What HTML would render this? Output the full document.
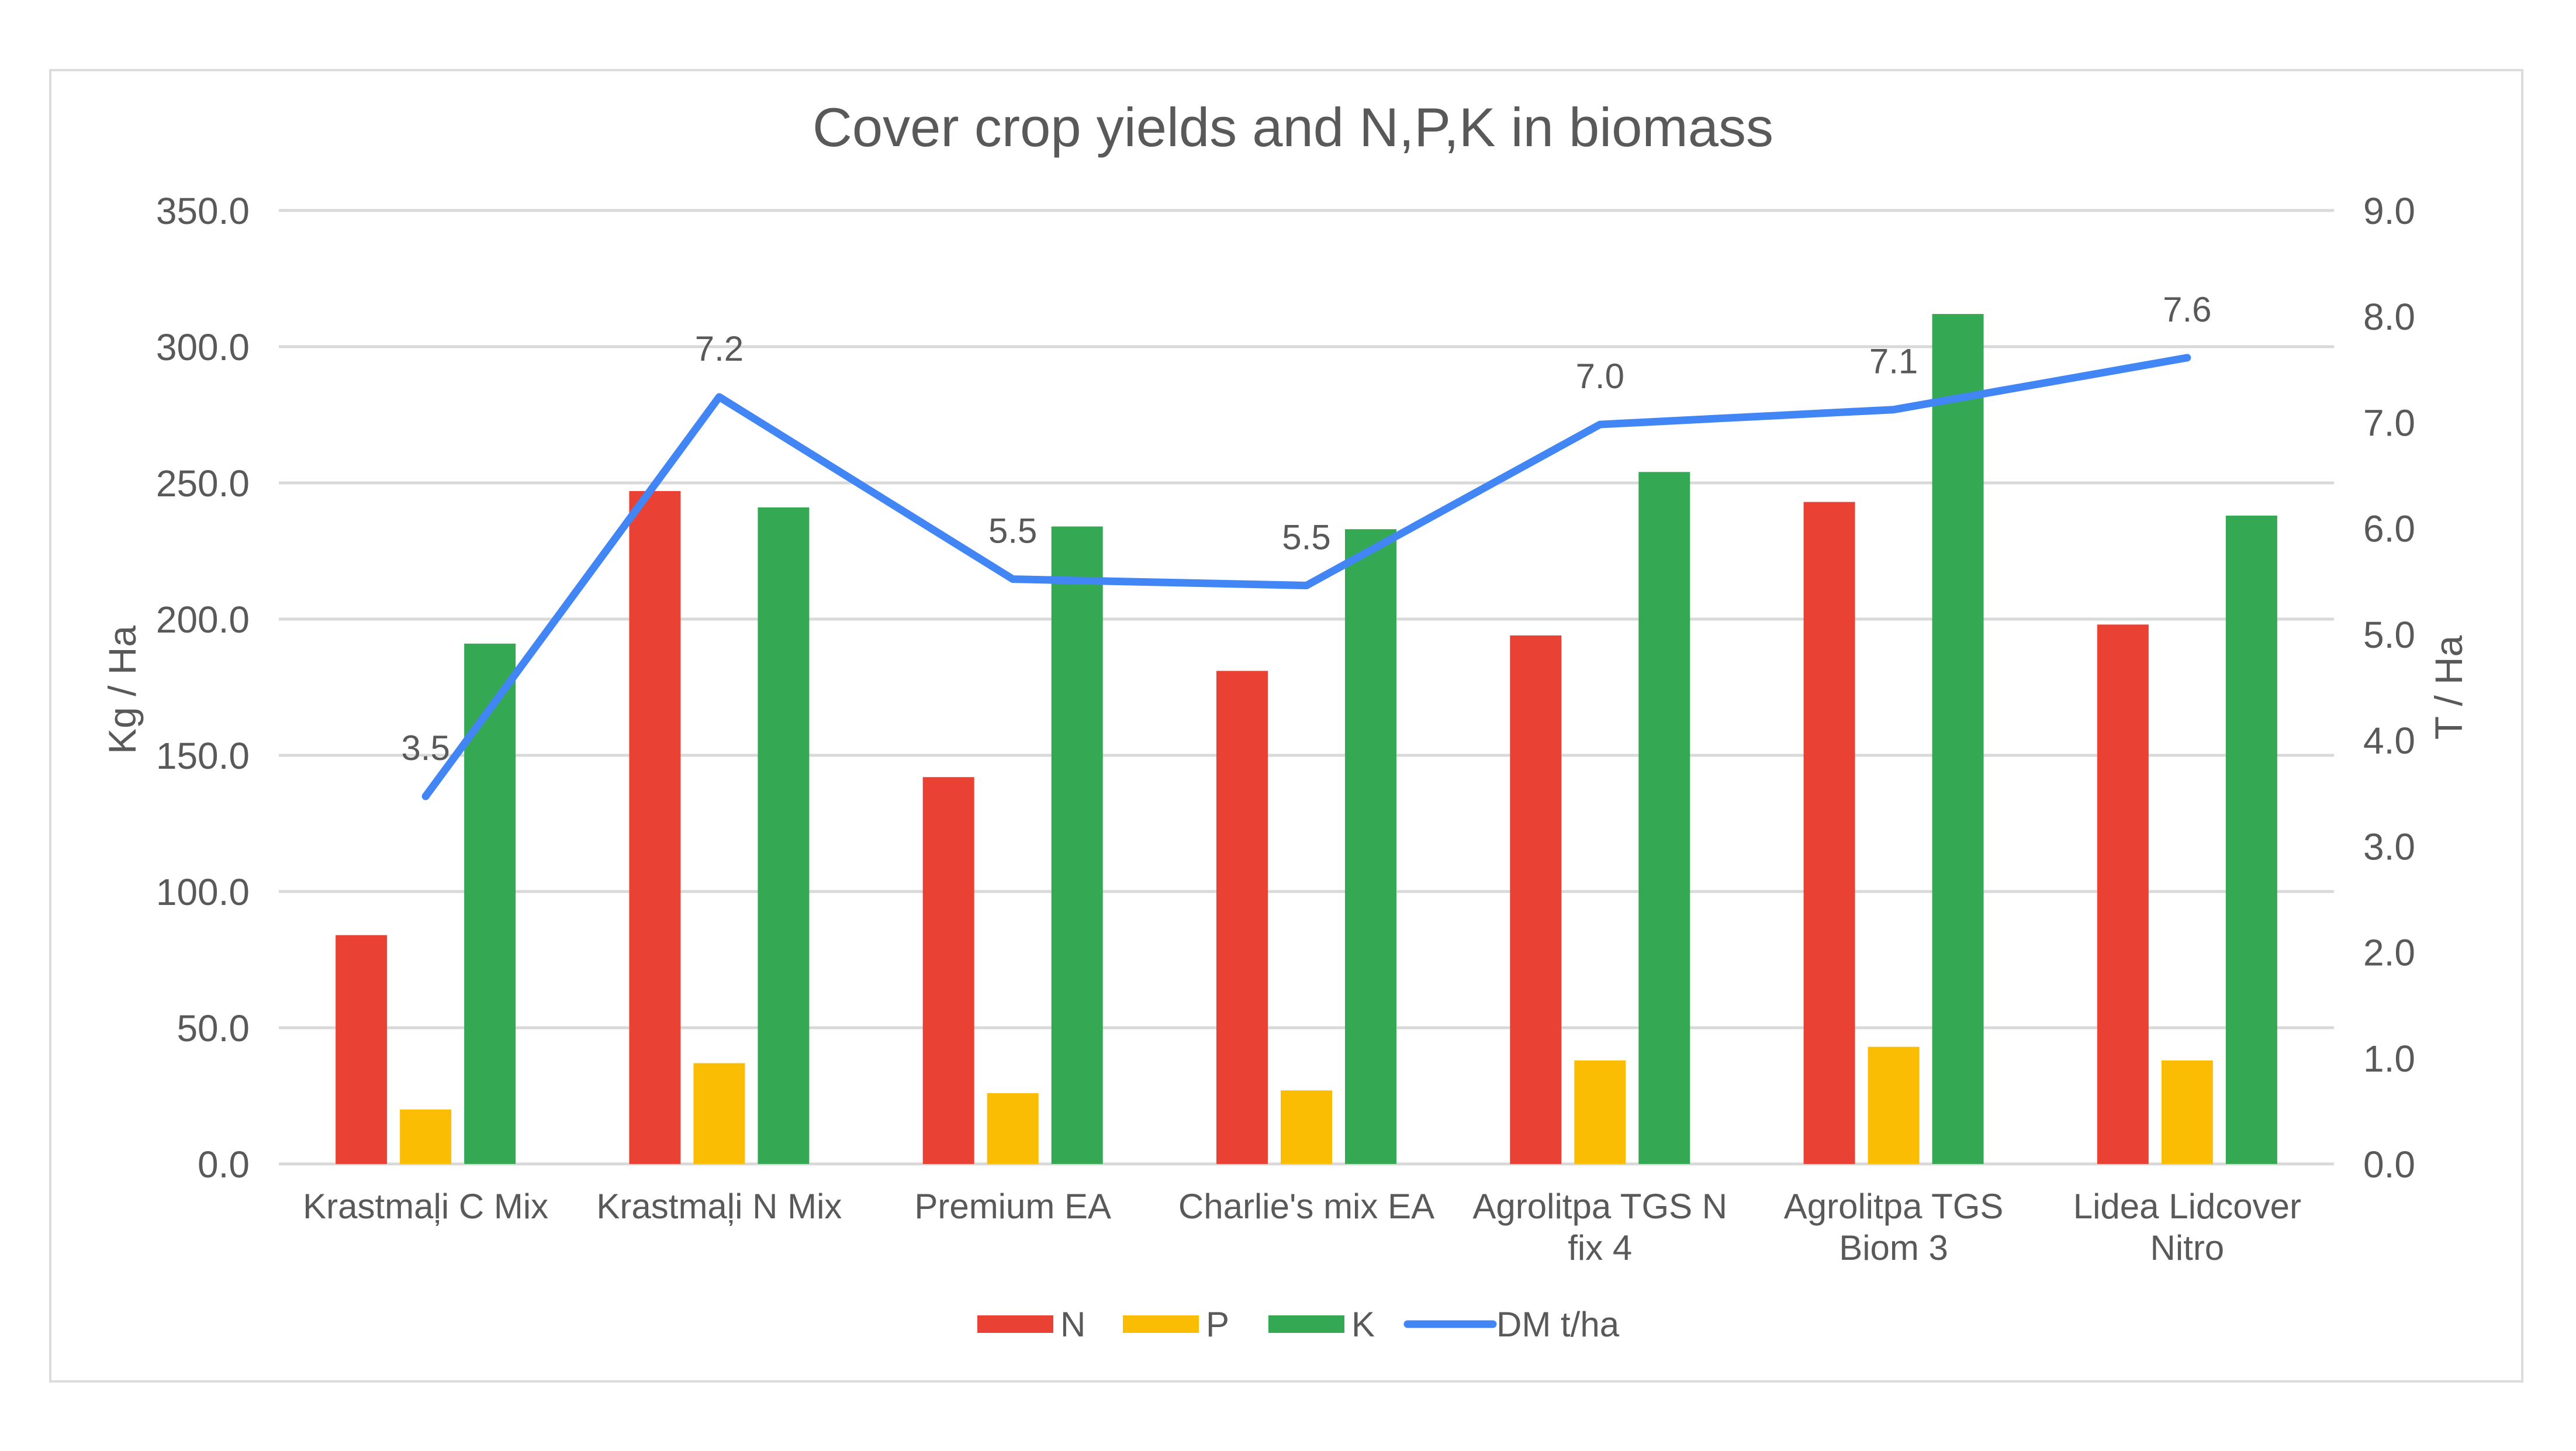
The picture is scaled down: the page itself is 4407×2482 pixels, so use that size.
<!DOCTYPE html>
<html><head><meta charset="utf-8"><style>
html,body{margin:0;padding:0;background:#fff}
svg{display:block}
text{font-family:"Liberation Sans",sans-serif;fill:#595959}
</style></head><body>
<svg id="chart" width="4407" height="2482" viewBox="0 0 4407 2482" xmlns="http://www.w3.org/2000/svg">
<rect x="86" y="120" width="4229" height="2243" fill="#fff" stroke="#dcdcdc" stroke-width="4"/>
<text x="2212" y="250" font-size="94" text-anchor="middle">Cover crop yields and N,P,K in biomass</text>
<g id="grid"></g><g id="bars"></g><g id="line"></g><g id="labels"></g>
<text transform="translate(232,1180) rotate(-90)" font-size="66" text-anchor="middle">Kg / Ha</text>
<text transform="translate(4212,1176) rotate(-90)" font-size="66" text-anchor="middle">T / Ha</text>
<g id="legend"></g>
</svg>
<script>
const categories=[["Krastmaļi C Mix"],["Krastmaļi N Mix"],["Premium EA"],["Charlie's mix EA"],["Agrolitpa TGS N","fix 4"],["Agrolitpa TGS","Biom 3"],["Lidea Lidcover","Nitro"]];
const nValues=[84,247,142,181,194,243,198];
const pValues=[20,37,26,27,38,43,38];
const kValues=[191,241,234,233,254,312,238];
const dmValues=[3.47,7.24,5.52,5.46,6.98,7.12,7.61];
const leftTicks=[0,50,100,150,200,250,300,350];
const rightTicks=[0,1,2,3,4,5,6,7,8,9];
const NS="http://www.w3.org/2000/svg";
const X0=477,X1=3993,Y0=1991,Y1=360;
const band=(X1-X0)/categories.length;
const yL=v=>Y0-(v/350)*(Y0-Y1);
const yR=v=>Y0-(v/9)*(Y0-Y1);
const cx=i=>X0+band*(i+0.5);
function mk(tag,attrs,parent){const e=document.createElementNS(NS,tag);for(const k in attrs)e.setAttribute(k,attrs[k]);parent.appendChild(e);return e;}
const grid=document.getElementById('grid'),bars=document.getElementById('bars'),line=document.getElementById('line'),labels=document.getElementById('labels'),legend=document.getElementById('legend');
leftTicks.forEach(t=>{
 const l=mk('line',{x1:X0,x2:X1,y1:yL(t),y2:yL(t),stroke:'#d9d9d9','stroke-width':5},grid);
 
 
 const tx=mk('text',{x:427,y:yL(t)+23,'font-size':64,'text-anchor':'end'},grid);tx.textContent=t.toFixed(1);
 
 
});
rightTicks.forEach(t=>{
 const tx=mk('text',{x:4043,y:yR(t)+23,'font-size':64},grid);tx.textContent=t.toFixed(1);
 
 
});
const series=[[nValues,'#E94235','bar-n'],[pValues,'#FBBC04','bar-p'],[kValues,'#34A853','bar-k']];
const bw=88,step=110;
categories.forEach((c,i)=>{
 series.forEach((s,j)=>{
  const v=s[0][i];const x=cx(i)+(j-1)*step-bw/2;
  const r=mk('rect',{x:x,y:yL(v),width:bw,height:Y0-yL(v),fill:s[1]},bars);
  
  
 });
 c.forEach((ln,k)=>{
  const t=mk('text',{x:cx(i),y:2084+k*71,'font-size':60,'text-anchor':'middle'},labels);t.textContent=ln;
  
  
 });
 const d=mk('text',{x:cx(i),y:yR(dmValues[i])-62,'font-size':60,'text-anchor':'middle'},labels);d.textContent=dmValues[i].toFixed(1);
 
 
});
const pts=dmValues.map((v,i)=>cx(i)+','+yR(v)).join(' ');
const pl=mk('polyline',{points:pts,fill:'none',stroke:'#4285F4','stroke-width':13,'stroke-linejoin':'round','stroke-linecap':'round'},line);


const leg=[['N','#E94235',1672,'rect'],['P','#FBBC04',1921,'rect'],['K','#34A853',2170,'rect'],['DM t/ha','#4285F4',2408,'line']];
leg.forEach(l=>{
 if(l[3]==='rect'){const r=mk('rect',{x:l[2],y:2250,width:130,height:30,fill:l[1]},legend);
  
  }
 else{const r=mk('line',{x1:l[2],x2:l[2]+146,y1:2265,y2:2265,stroke:l[1],'stroke-width':13,'stroke-linecap':'round'},legend);
  
  }
 const t=mk('text',{x:l[2]+(l[3]==='rect'?142:152),y:2286,'font-size':60},legend);t.textContent=l[0];
 
 
});
</script>
</body></html>
